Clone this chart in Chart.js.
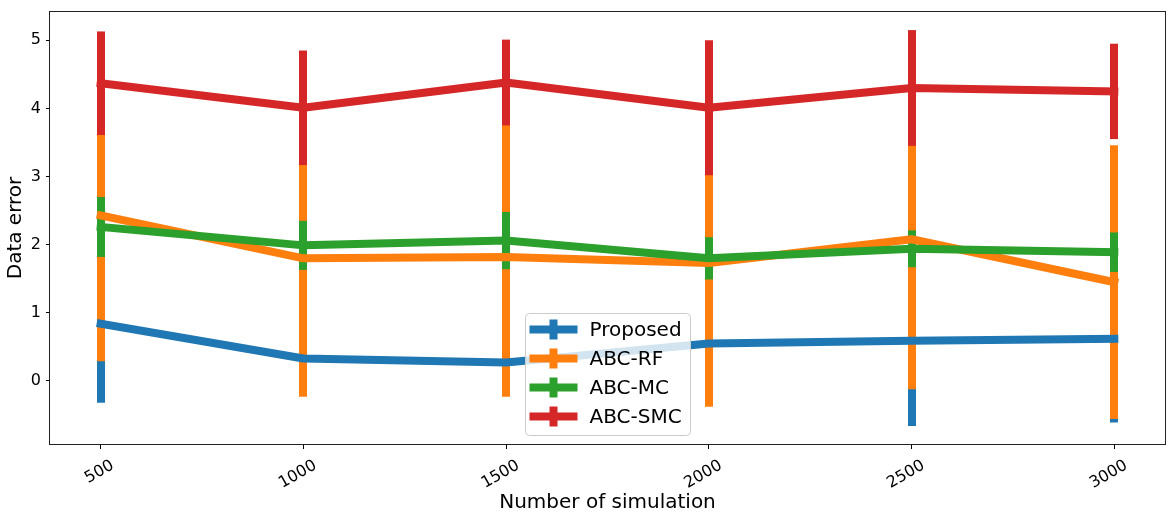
<!DOCTYPE html>
<html>
<head>
<meta charset="utf-8">
<script src="https://cdn.jsdelivr.net/npm/chart.js@4.4.1/dist/chart.umd.min.js"></script>
<style>
  html, body { margin: 0; padding: 0; background: #fff; }
</style>
</head>
<body>
<canvas id="myChart" width="1175" height="521"></canvas>
<script>
let simulations = [500, 1000, 1500, 2000, 2500, 3000];

let proposedMean = [0.84, 0.33, 0.27, 0.55, 0.59, 0.62];
let proposedErr = [1.16, 0.45, 0.40, 0.80, 1.25, 1.23];

let rfMean = [2.43, 1.80, 1.82, 1.73, 2.08, 1.45];
let rfErr = [2.14, 2.03, 2.05, 2.11, 2.20, 2.01];

let mcMean = [2.26, 1.99, 2.06, 1.80, 1.94, 1.89];
let mcErr = [0.44, 0.36, 0.42, 0.31, 0.27, 0.29];

let smcMean = [4.37, 4.01, 4.38, 4.01, 4.30, 4.25];
let smcErr = [0.76, 0.84, 0.63, 0.99, 0.85, 0.70];

let yTicks = [0, 1, 2, 3, 4, 5];

let fontName = "'DejaVu Sans', sans-serif";

function points(means) {
  return simulations.map((x, i) => ({ x: x, y: means[i] }));
}

// vertical error bars, drawn under all the lines (like matplotlib)
const errorBars = {
  id: 'errorBars',
  beforeDatasetsDraw(chart) {
    const ctx = chart.ctx;
    const xs = chart.scales.x, ys = chart.scales.y;
    ctx.save();
    ctx.lineWidth = 8;
    ctx.lineCap = 'butt';
    chart.data.datasets.forEach(ds => {
      ctx.strokeStyle = ds.borderColor;
      ds.data.forEach((p, i) => {
        const px = Math.round(xs.getPixelForValue(p.x));
        ctx.beginPath();
        ctx.moveTo(px, ys.getPixelForValue(p.y - ds.errors[i]));
        ctx.lineTo(px, ys.getPixelForValue(p.y + ds.errors[i]));
        ctx.stroke();
      });
    });
    ctx.restore();
  }
};

// axes frame + legend box in lower center
const frameAndLegend = {
  id: 'frameAndLegend',
  afterDraw(chart) {
    const ctx = chart.ctx;
    const ca = chart.chartArea;
    ctx.save();
    ctx.strokeStyle = '#222';
    ctx.lineWidth = 1;
    ctx.strokeRect(Math.round(ca.left) - 0.5, Math.round(ca.top) + 0.5,
      Math.round(ca.right - ca.left) + 1, Math.round(ca.bottom - ca.top) - 1);

    const w = 165, h = 122;
    const bx = Math.round((ca.left + ca.right) / 2 - w / 2) + 0.5;
    const by = Math.round(ca.bottom - 10 - h) + 0.5;
    ctx.beginPath();
    ctx.roundRect(bx, by, w, h, 4);
    ctx.fillStyle = 'rgba(255,255,255,0.8)';
    ctx.fill();
    ctx.strokeStyle = '#cccccc';
    ctx.stroke();

    ctx.font = '20px ' + fontName;
    ctx.textBaseline = 'middle';
    ctx.textAlign = 'left';
    chart.data.datasets.forEach((ds, i) => {
      const cy = by + 16 + i * 29;
      ctx.strokeStyle = ds.borderColor;
      ctx.lineWidth = 8;
      ctx.lineCap = 'butt';
      ctx.beginPath();
      ctx.moveTo(bx + 4, cy);
      ctx.lineTo(bx + 52, cy);
      ctx.stroke();
      ctx.beginPath();
      ctx.moveTo(bx + 28, cy - 10);
      ctx.lineTo(bx + 28, cy + 10);
      ctx.stroke();
      ctx.fillStyle = '#000';
      ctx.fillText(ds.label, bx + 64, cy + 1);
    });
    ctx.restore();
  }
};

function lineSet(label, color, means, errs, order) {
  return {
    label: label,
    data: points(means),
    errors: errs,
    borderColor: color,
    backgroundColor: color,
    borderWidth: 8,
    borderCapStyle: 'square',
    borderJoinStyle: 'round',
    pointRadius: 0,
    pointHoverRadius: 0,
    fill: false,
    tension: 0,
    order: order
  };
}

let mychart = document.getElementById('myChart');

let chart = new Chart(mychart, {
  type: 'line',
  data: {
    datasets: [
      lineSet('Proposed', '#1f77b4', proposedMean, proposedErr, 4),
      lineSet('ABC-RF', '#ff7f0e', rfMean, rfErr, 3),
      lineSet('ABC-MC', '#2ca02c', mcMean, mcErr, 2),
      lineSet('ABC-SMC', '#d62728', smcMean, smcErr, 1)
    ]
  },
  options: {
    responsive: false,
    devicePixelRatio: 1,
    animation: false,
    layout: { padding: { top: 11, right: 10, left: 0, bottom: 0 } },
    plugins: {
      legend: { display: false },
      tooltip: { enabled: false }
    },
    scales: {
      x: {
        type: 'linear',
        min: 375,
        max: 3125,
        afterBuildTicks: scale => { scale.ticks = simulations.map(v => ({ value: v })); },
        afterFit: scale => {
          scale.height = 76;
          scale.paddingLeft = 0;
          scale.paddingRight = 0;
        },
        grid: { drawOnChartArea: false, color: '#000', tickLength: 4 },
        border: { display: false },
        ticks: {
          minRotation: 30,
          maxRotation: 30,
          labelOffset: 12,
          padding: 7,
          color: '#000',
          font: { family: fontName, size: 16 },
          callback: v => String(v)
        },
        title: {
          display: true,
          text: 'Number of simulation',
          color: '#000',
          font: { family: fontName, size: 20 },
          padding: { top: 0, bottom: 6 }
        }
      },
      y: {
        min: -0.94,
        max: 5.43,
        afterBuildTicks: scale => { scale.ticks = yTicks.map(v => ({ value: v })); },
        afterFit: scale => {
          scale.width = 50;
          scale.paddingTop = 0;
          scale.paddingBottom = 0;
        },
        grid: { drawOnChartArea: false, color: '#000', tickLength: 4 },
        border: { display: false },
        ticks: {
          padding: 5,
          color: '#000',
          font: { family: fontName, size: 16 },
          callback: v => String(v)
        },
        title: {
          display: true,
          text: 'Data error',
          color: '#000',
          font: { family: fontName, size: 20 },
          padding: { top: 4, bottom: 0 }
        }
      }
    }
  },
  plugins: [errorBars, frameAndLegend]
});
</script>
</body>
</html>
